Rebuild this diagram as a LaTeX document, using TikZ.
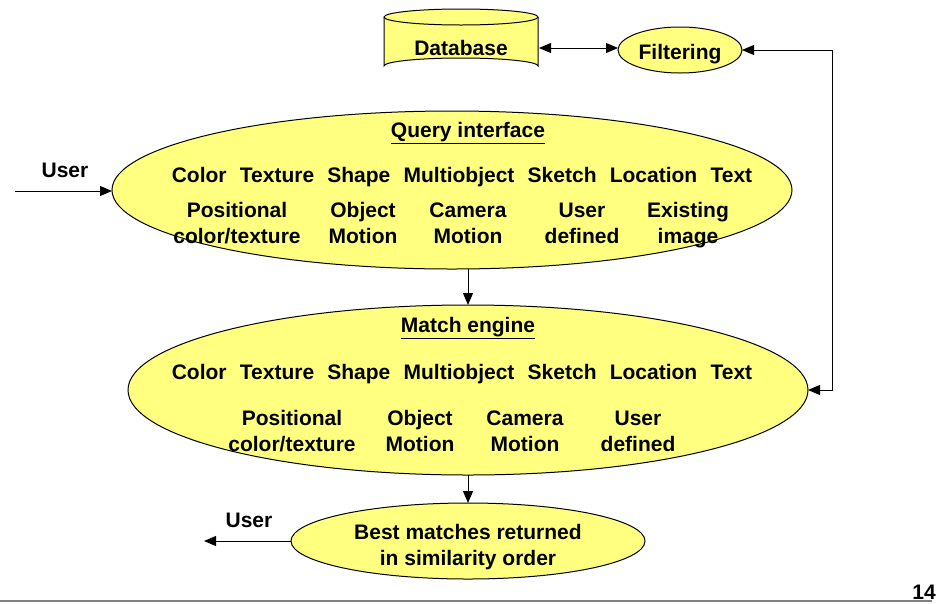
\documentclass[tikz,border=0pt]{standalone}
\usepackage{fontspec}
\setmainfont{Liberation Sans}
\usetikzlibrary{arrows.meta,shapes.geometric}
\definecolor{ylw}{RGB}{255,255,128}
\tikzset{
  lbl/.style={font=\fontsize{21}{26}\selectfont\bfseries, inner sep=0pt, align=center},
  oval/.style={draw=black, line width=1pt, fill=ylw},
  conn/.style={line width=1pt, -{Triangle[length=12pt,width=10pt]}},
  conn2/.style={line width=1pt, {Triangle[length=12pt,width=10pt]}-{Triangle[length=12pt,width=10pt]}},
}
\newcommand{\wsp}{\hspace{0.63em}}
\begin{document}
\begin{tikzpicture}[x=1pt,y=-1pt]
\useasboundingbox (0,0) rectangle (936,603);
% ellipses
\draw[oval] (452,190) ellipse [x radius=340, y radius=79];
\draw[oval] (468,390) ellipse [x radius=340, y radius=85];
\draw[oval] (468,541) ellipse [x radius=177, y radius=38];
\draw[oval] (680,50) ellipse [x radius=62, y radius=23];
% cylinder
\draw[oval] (384,17) -- (384,66) arc[start angle=180, end angle=360, x radius=77, y radius=8] -- (538,17);
\draw[oval] (461,17) ellipse [x radius=77, y radius=8];
% named anchors
\coordinate (db) at (539,48);
\coordinate (filtL) at (618,48);
\coordinate (filtR) at (742,50);
\coordinate (qtop) at (468,269);
\coordinate (qleft) at (112,191);
\coordinate (mtop) at (468,305);
\coordinate (mbot) at (468,475);
\coordinate (mright) at (808,390);
\coordinate (btop) at (468,503);
\coordinate (bleft) at (291,541);
\coordinate (uin) at (15,191);
\coordinate (uout) at (204,541);
\coordinate (c1) at (832,50);
\coordinate (c2) at (832,390);
% connectors
\draw[conn2] (db) -- (filtL);
\draw[conn2] (filtR) -- (c1) -- (c2) -- (mright);
\draw[conn] (uin) -- (qleft);
\draw[conn] (qtop) -- (mtop);
\draw[conn] (mbot) -- (btop);
\draw[conn] (bleft) -- (uout);
% texts
\node[lbl] (tdb) at (461,50) {\strut Database};
\node[lbl] (tfilt) at (680,54) {\strut Filtering};
\node[lbl] (tu1) at (65,172) {\strut User};
\node[lbl] (tu2) at (249,522) {\strut User};
\node[lbl] (tq) at (468,133) {\underline{Query interface}};
\node[lbl] (tq1) at (462,177) {\strut Color\wsp Texture\wsp Shape\wsp Multiobject\wsp Sketch\wsp Location\wsp Text};
\node[lbl] (tq2a) at (237,225) {\strut Positional\\\strut color/texture};
\node[lbl] (tq2b) at (363,225) {\strut Object\\\strut Motion};
\node[lbl] (tq2c) at (468,225) {\strut Camera\\\strut Motion};
\node[lbl] (tq2d) at (582,225) {\strut User\\\strut defined};
\node[lbl] (tq2e) at (688,225) {\strut Existing\\\strut image};
\node[lbl] (tm) at (468,328) {\underline{Match engine}};
\node[lbl] (tm1) at (462,374) {\strut Color\wsp Texture\wsp Shape\wsp Multiobject\wsp Sketch\wsp Location\wsp Text};
\node[lbl] (tm2a) at (292,433) {\strut Positional\\\strut color/texture};
\node[lbl] (tm2b) at (420,433) {\strut Object\\\strut Motion};
\node[lbl] (tm2c) at (525,433) {\strut Camera\\\strut Motion};
\node[lbl] (tm2d) at (638,433) {\strut User\\\strut defined};
\node[lbl] (tb) at (468,547) {\strut Best matches returned\\\strut in similarity order};
% footer
\draw[line width=1.5pt, gray] (0,601) -- (932,601);
\node[lbl, anchor=base east] (pg) at (936,599) {14};
\end{tikzpicture}
\end{document}
